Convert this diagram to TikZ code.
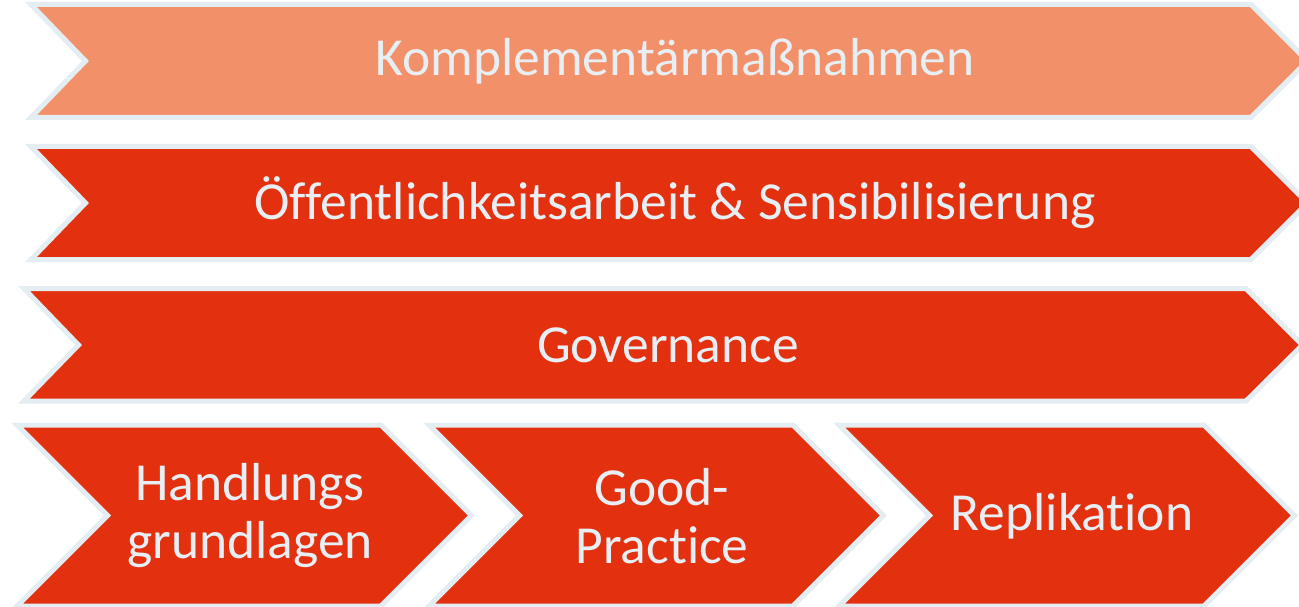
\documentclass[tikz,border=0pt]{standalone}
\usepackage{fontspec}
\setmainfont{Carlito}[Ligatures={NoCommon}]
\definecolor{salmon}{HTML}{F19069}
\definecolor{brick}{HTML}{E3310F}
\definecolor{rim}{HTML}{E3EDF2}
\definecolor{txt}{HTML}{E8EFF4}
\tikzset{
  chev/.style={draw=rim, line width=5pt, line join=miter},
  lbl/.style={text=txt, font=\fontsize{53.5}{58}\selectfont, align=center, inner sep=0pt}
}
\begin{document}
\begin{tikzpicture}[x=1pt,y=-1pt]
\useasboundingbox (0,0) rectangle (1299,607);
% row 1
\draw[chev, fill=salmon] (31,4.5) -- (1251,4.5) -- (1307.5,61) -- (1251,117.5) -- (31,117.5) -- (85.5,61) -- cycle;
% row 2
\draw[chev, fill=brick] (31,146.5) -- (1251,146.5) -- (1307.5,203) -- (1251,259.5) -- (31,259.5) -- (85.5,203) -- cycle;
% row 3
\draw[chev, fill=brick] (24,288.5) -- (1246,288.5) -- (1302.5,345) -- (1246,401) -- (24,401) -- (78.5,345) -- cycle;
% row 4
\draw[chev, fill=brick] (17,425) -- (381,425) -- (471.5,515.5) -- (381,606) -- (17,606) -- (107.5,515.5) -- cycle;
\draw[chev, fill=brick] (429,425) -- (793,425) -- (883.5,515.5) -- (793,606) -- (429,606) -- (519.5,515.5) -- cycle;
\draw[chev, fill=brick] (839,425) -- (1204,425) -- (1294.5,515.5) -- (1204,606) -- (839,606) -- (929.5,515.5) -- cycle;
% labels
\node[lbl] (k) at (675,61) {Komplementärmaßnahmen};
\node[lbl] (o) at (675,203) {Öffentlichkeitsarbeit \& Sensibilisierung};
\node[lbl] (g) at (668,345) {Governance};
\node[lbl] (h) at (250,516) {Handlungs\\grundlagen};
\node[lbl] (p) at (662,516) {Good-\\Practice};
\node[lbl] (r) at (1072,516) {Replikation};
\end{tikzpicture}
\end{document}
